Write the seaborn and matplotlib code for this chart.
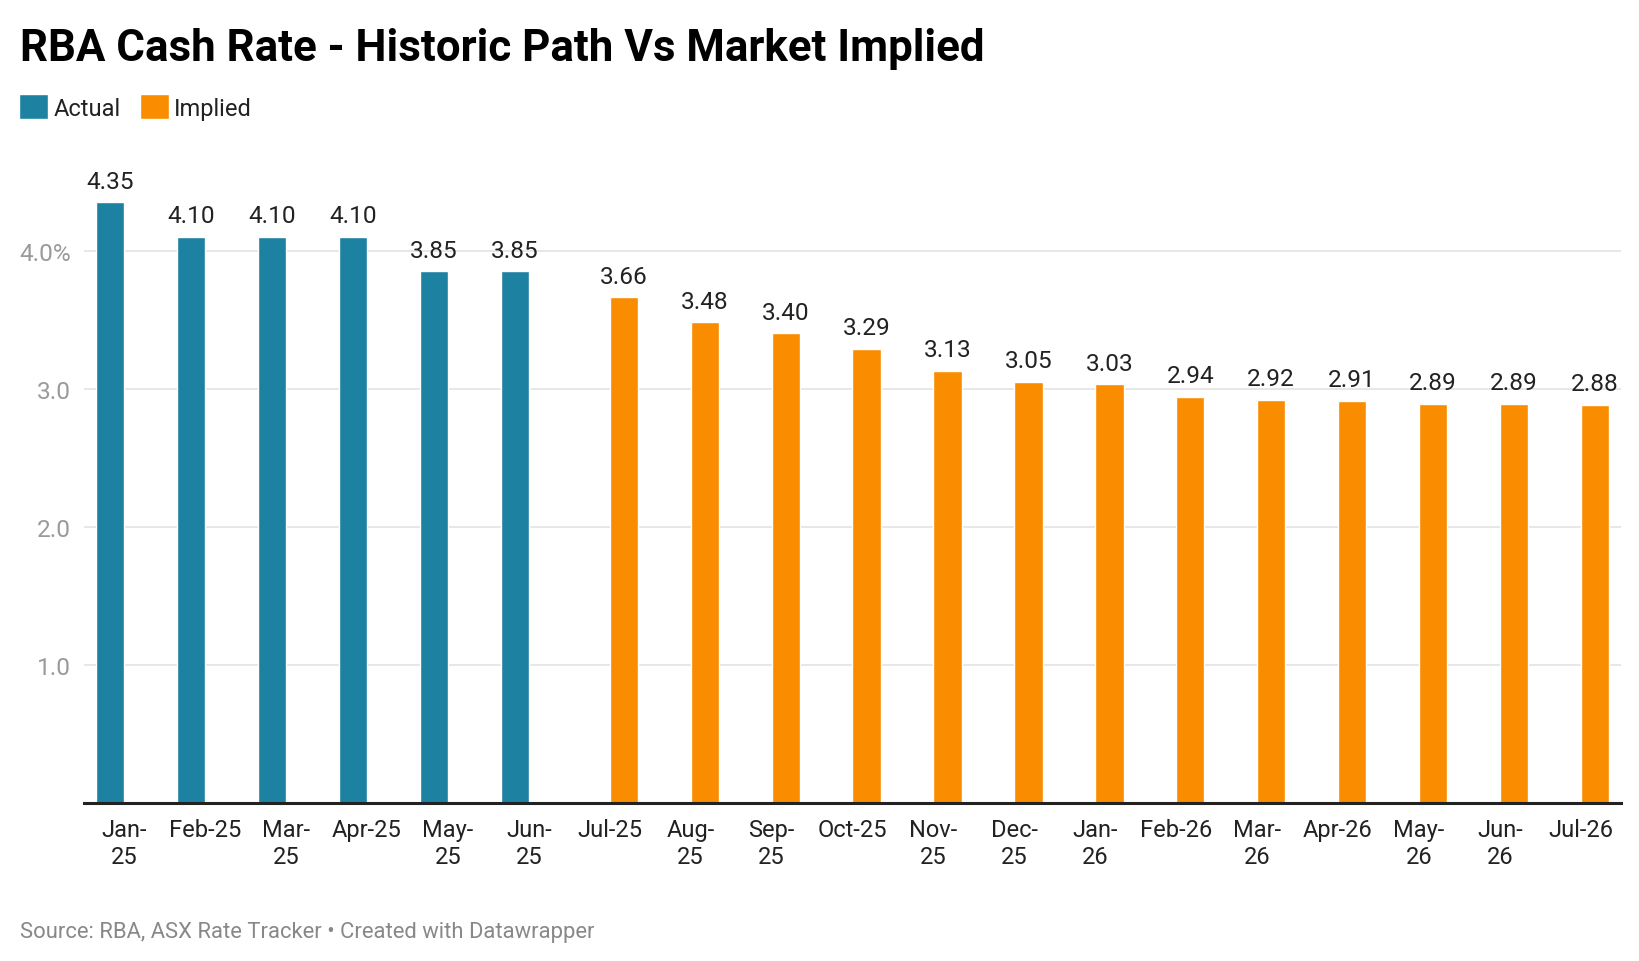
import pandas as pd
import matplotlib.pyplot as plt
import seaborn as sns
from matplotlib.ticker import FixedLocator

# Chart data
months = ["Jan-25", "Feb-25", "Mar-25", "Apr-25", "May-25", "Jun-25",
          "Jul-25", "Aug-25", "Sep-25", "Oct-25", "Nov-25", "Dec-25",
          "Jan-26", "Feb-26", "Mar-26", "Apr-26", "May-26", "Jun-26", "Jul-26"]
rates = [4.35, 4.10, 4.10, 4.10, 3.85, 3.85,
         3.66, 3.48, 3.40, 3.29, 3.13, 3.05,
         3.03, 2.94, 2.92, 2.91, 2.89, 2.89, 2.88]
series = ["Actual"] * 6 + ["Implied"] * 13
tick_labels = ["Jan-\n25", "Feb-25", "Mar-\n25", "Apr-25", "May-\n25", "Jun-\n25",
               "Jul-25", "Aug-\n25", "Sep-\n25", "Oct-25", "Nov-\n25", "Dec-\n25",
               "Jan-\n26", "Feb-26", "Mar-\n26", "Apr-26", "May-\n26", "Jun-\n26", "Jul-26"]
y_ticks = [1.0, 2.0, 3.0, 4.0]
y_tick_labels = ["1.0", "2.0", "3.0", "4.0%"]

df = pd.DataFrame({"month": months, "rate": rates, "series": series})

sns.set_theme(style="white")
plt.rcParams['font.family'] = ['Roboto', 'DejaVu Sans']

fig = plt.figure(figsize=(16.4, 9.62), dpi=100)
ax = fig.add_axes([0.0511, 0.1645, 0.9885 - 0.0511, 0.8246 - 0.1645])

palette = {"Actual": "#1d81a2", "Implied": "#fa8c00"}
sns.barplot(data=df, x="month", y="rate", hue="series", order=months,
            hue_order=["Actual", "Implied"], palette=palette, width=0.7,
            dodge=True, saturation=1, errorbar=None, ax=ax)

for c in ax.containers:
    ax.bar_label(c, fmt="%.2f", padding=7, fontsize=17.6, color="#222222")

ax.set_xlim(-0.5, len(months) - 0.5)
ax.set_ylim(0, 4.6)
ax.yaxis.set_major_locator(FixedLocator(y_ticks))
ax.set_yticklabels(y_tick_labels)
ax.set_xticks(range(len(months)))
ax.set_xticklabels(tick_labels, linespacing=1.2)
ax.tick_params(axis="x", length=0, pad=11, labelsize=17, colors="#222222")
ax.tick_params(axis="y", length=0, pad=9, labelsize=17.6, colors="#9a9a9a")
ax.set_xlabel("")
ax.set_ylabel("")
ax.grid(axis="y", color="#e3e3e3", linewidth=1.2)
ax.set_axisbelow(True)
for s in ["top", "right", "left"]:
    ax.spines[s].set_visible(False)
ax.spines["bottom"].set_color("#222222")
ax.spines["bottom"].set_linewidth(2.2)

# Legend
handles, labels = ax.get_legend_handles_labels()
ax.get_legend().remove()
fig.legend(handles, labels, loc="center left", bbox_to_anchor=(0.0115, 0.8878),
           bbox_transform=fig.transFigure, ncol=2, frameon=False, fontsize=17,
           handlelength=1.25, handleheight=1.25, handletextpad=0.22,
           columnspacing=0.8, borderpad=0, borderaxespad=0,
           labelcolor="#222222")

fig.text(0.0125, 0.9368, "RBA Cash Rate - Historic Path Vs Market Implied",
         fontsize=31.6, fontweight="bold", color="#000000", va="baseline")
fig.text(0.0125, 0.025, "Source: RBA, ASX Rate Tracker \u2022 Created with Datawrapper",
         fontsize=15.8, color="#888888", va="baseline")

fig.savefig("out.png", dpi=100)
